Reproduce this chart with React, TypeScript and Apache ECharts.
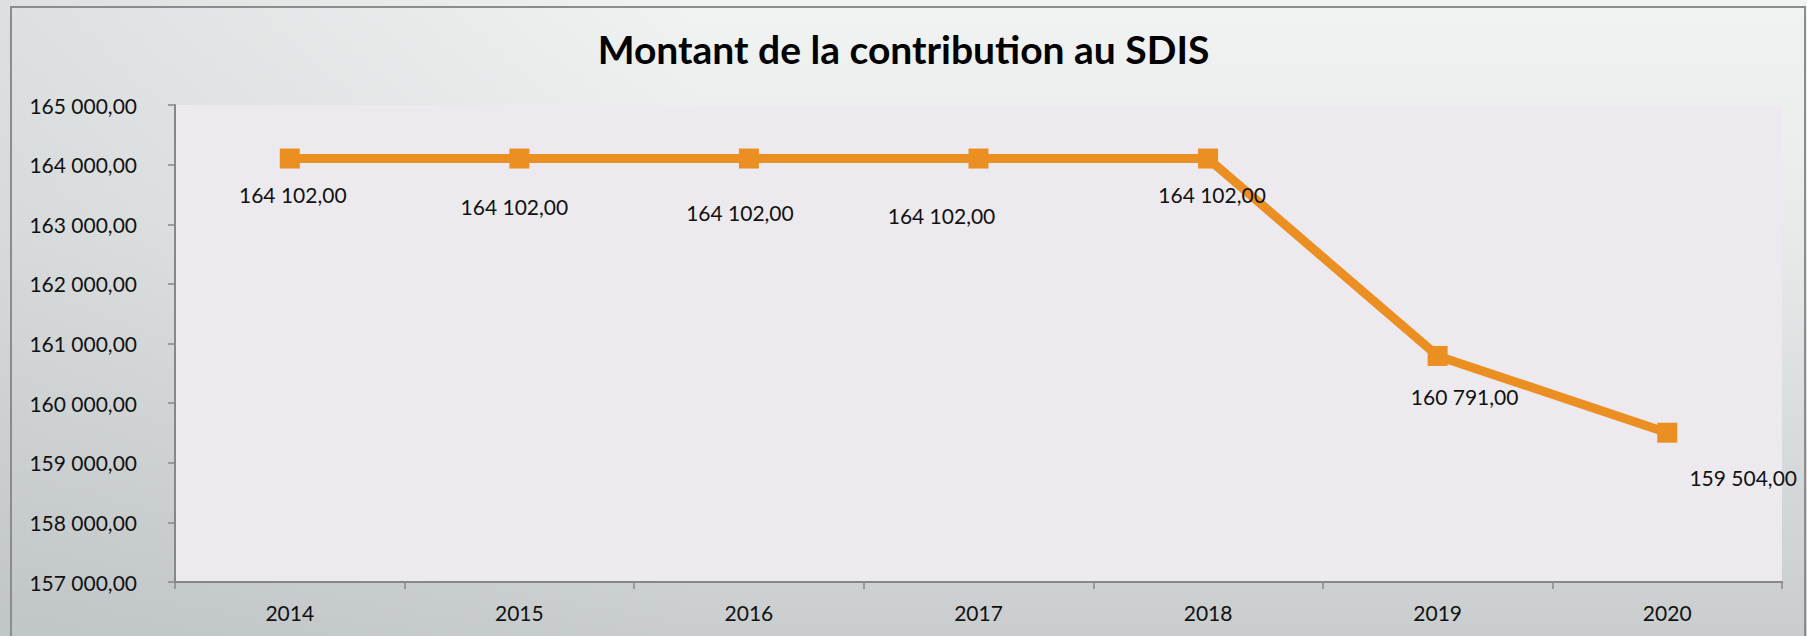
import React, { useEffect, useRef } from "react";
import * as echarts from "echarts";

const YEARS = ["2014", "2015", "2016", "2017", "2018", "2019", "2020"];
const CONTRIBUTION = [164102, 164102, 164102, 164102, 164102, 160791, 159504];
const Y_MIN = 157000;
const Y_MAX = 165000;
const Y_STEP = 1000;
const TITLE = "Montant de la contribution au SDIS";

// label placement (style) for each point's data label, in px relative to the marker
const LABEL_OFFSETS = [
  [3, 36],
  [-5, 48],
  [-9, 54],
  [-37, 57],
  [4, 36],
  [27, 41],
  [76, 45],
];

const W = 1807;
const H = 636;
const FONT = "Lato, 'Open Sans', sans-serif";

function fmt(v: number): string {
  const [intPart, dec] = v.toFixed(2).split(".");
  const withSpaces = intPart.replace(/\B(?=(\d{3})+(?!\d))/g, " ");
  return withSpaces + "," + dec;
}

export default function App() {
  const ref = useRef<HTMLDivElement>(null);
  useEffect(() => {
    document.body.style.margin = "0";
    if (!ref.current) return;
    const chart = echarts.init(ref.current, null, { renderer: "svg" });
    const option = {
      animation: false,
      backgroundColor: "transparent",
      graphic: [
        {
          type: "rect",
          z: -10,
          silent: true,
          shape: { x: 0, y: 0, width: W, height: H },
          style: {
            fill: new echarts.graphic.LinearGradient(
              0, 0, 0, H,
              [
                { offset: 0, color: "#f1f2f2" },
                { offset: 0.35, color: "#e9ebeb" },
                { offset: 1, color: "#c9cdce" },
              ],
              true
            ),
          },
        },
        {
          type: "rect",
          z: -9,
          silent: true,
          shape: { x: 0, y: 0, width: W, height: H },
          style: {
            fill: new echarts.graphic.LinearGradient(
              0, 0, 700, 0,
              [
                { offset: 0, color: "rgba(170,176,180,0.28)" },
                { offset: 1, color: "rgba(170,176,180,0)" },
              ],
              true
            ),
          },
        },
        {
          type: "rect",
          z: -8,
          silent: true,
          shape: { x: 11, y: 7, width: 1794, height: 640 },
          style: { fill: "none", stroke: "#8c8c8c", lineWidth: 2 },
        },
      ],
      title: {
        text: TITLE,
        left: "center",
        top: 24,
        textStyle: {
          fontFamily: FONT,
          fontWeight: "bold",
          fontSize: 39,
          color: "#000000",
        },
      },
      grid: {
        left: 175,
        top: 105,
        right: W - 1782,
        bottom: H - 582,
        show: true,
        backgroundColor: "#eceaef",
        borderWidth: 0,
      },
      xAxis: {
        type: "category",
        data: YEARS,
        boundaryGap: true,
        axisLine: { show: true, lineStyle: { color: "#878787", width: 2 } },
        axisTick: { show: true, length: 7, lineStyle: { color: "#878787", width: 1.5 } },
        axisLabel: {
          margin: 20,
          color: "#111111",
          fontFamily: FONT,
          fontSize: 21,
        },
        splitLine: { show: false },
      },
      yAxis: {
        type: "value",
        min: Y_MIN,
        max: Y_MAX,
        interval: Y_STEP,
        axisLine: { show: true, lineStyle: { color: "#878787", width: 2 } },
        axisTick: { show: true, length: 7, lineStyle: { color: "#878787", width: 1.5 } },
        axisLabel: {
          margin: 38,
          color: "#111111",
          fontFamily: FONT,
          fontSize: 21,
          formatter: (v: number) => fmt(v),
        },
        splitLine: { show: false },
      },
      series: [
        {
          type: "line",
          data: CONTRIBUTION.map((v, i) => ({
            value: v,
            label: { offset: LABEL_OFFSETS[i] },
          })),
          symbol: "rect",
          symbolSize: 20,
          lineStyle: { color: "#ec8f23", width: 9 },
          itemStyle: { color: "#ec8f23" },
          label: {
            show: true,
            position: "inside",
            color: "#111111",
            fontFamily: FONT,
            fontSize: 21,
            formatter: (p: any) => fmt(p.value),
          },
        },
      ],
    };
    chart.setOption(option as any);
    return () => chart.dispose();
  }, []);
  return (
    <div
      ref={ref}
      style={{ position: "absolute", left: 0, top: 0, width: W, height: H }}
    />
  );
}
